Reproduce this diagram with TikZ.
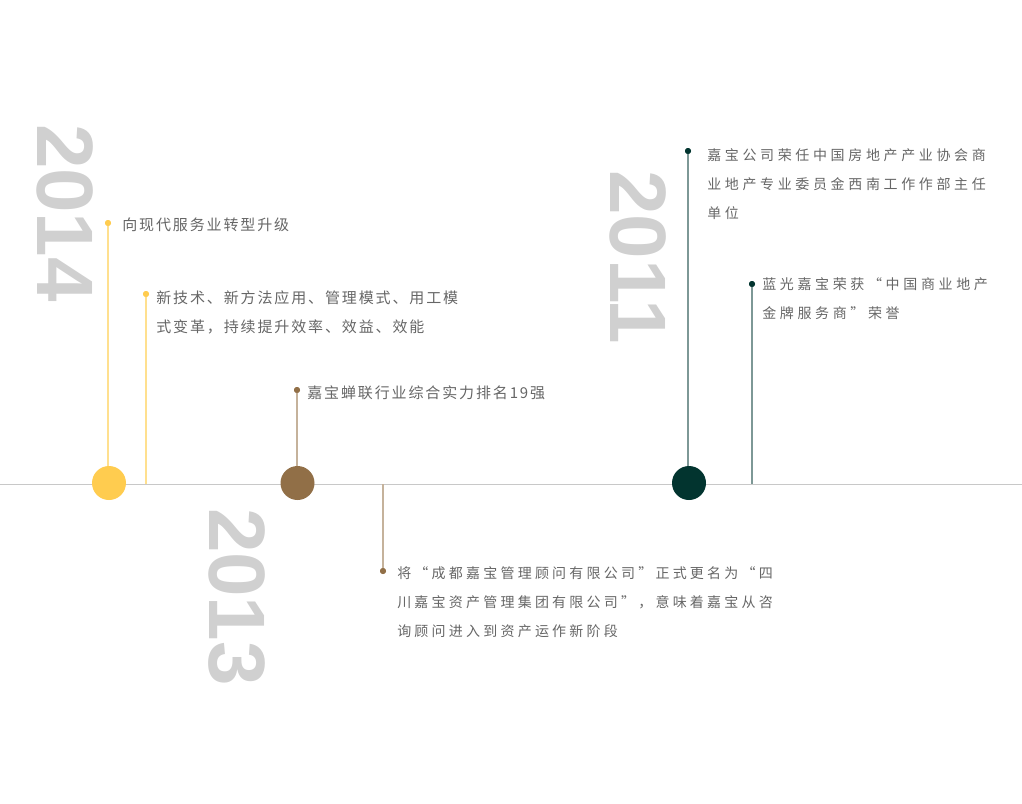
\documentclass[tikz,border=0pt]{standalone}
\usepackage{fontspec}
\newfontfamily\cjkA[LetterSpace=12.5]{Noto Sans CJK SC}
\newfontfamily\cjkB[LetterSpace=26]{Noto Sans CJK SC}
\newfontfamily\cjkC[LetterSpace=23]{Noto Sans CJK SC}
\newfontfamily\yearfont{Liberation Sans}
\definecolor{yellowC}{HTML}{FFCC4F}
\definecolor{yellowL}{HTML}{FFE08F}
\definecolor{brownC}{HTML}{916F47}
\definecolor{brownL}{HTML}{C5B29B}
\definecolor{greenC}{HTML}{02342F}
\definecolor{greenL}{HTML}{7D9896}
\definecolor{axisgray}{HTML}{C8C8C8}
\definecolor{yeargray}{HTML}{D0D0D0}
\definecolor{txtgray}{HTML}{666666}
\tikzset{
  yearlabel/.style={font=\yearfont\bfseries\fontsize{60}{60}\selectfont, text=yeargray, rotate=-90, inner sep=0pt},
  bigdot/.style={circle, minimum size=25.5pt, inner sep=0pt},
  pindot/.style={circle, minimum size=4.5pt, inner sep=0pt},
  stem/.style={line width=1.5pt},
  axisline/.style={draw=axisgray, line width=0.75pt},
  txtA/.style={anchor=west, inner sep=0pt, text=txtgray, font=\cjkA\fontsize{11.25}{11.25}\selectfont, text height=0.88em, text depth=0.12em},
  txtB/.style={anchor=west, inner sep=0pt, text=txtgray, font=\cjkB\fontsize{10.5}{10.5}\selectfont, text height=0.88em, text depth=0.12em},
  txtC/.style={txtB, font=\cjkC\fontsize{10.5}{10.5}\selectfont}
}
\begin{document}
\begin{tikzpicture}[x=0.75pt,y=-0.75pt]
\useasboundingbox (0,0) rectangle (1022,804);
% axis
\coordinate (axL) at (0,484);
\coordinate (axR) at (1022,484);
\draw[axisline] (axL) -- (axR);
% years
\node[yearlabel] (y14) at (65,213) {2014};
\node[yearlabel] (y13) at (237,597) {2013};
\node[yearlabel] (y11) at (638,257) {2011};
% pins and stems
\node[pindot, fill=yellowC] (p1) at (108,223) {};
\node[pindot, fill=yellowC] (p2) at (146,294) {};
\node[pindot, fill=brownC] (p3) at (297,390) {};
\node[pindot, fill=brownC] (p4) at (383,571) {};
\node[pindot, fill=greenC] (p5) at (688,151) {};
\node[pindot, fill=greenC] (p6) at (752,284) {};
\coordinate (q2) at (146,484);
\coordinate (q4) at (383,484);
\coordinate (q6) at (752,484);
\coordinate (c14s) at (108,483);
\coordinate (c13s) at (297,483);
\coordinate (c11s) at (688,483);
\draw[stem, yellowL] (p1.center) -- (c14s);
\draw[stem, yellowL] (p2.center) -- (q2);
\draw[stem, brownL] (p3.center) -- (c13s);
\draw[stem, brownL] (q4) -- (p4.center);
\draw[stem, greenL] (p5.center) -- (c11s);
\draw[stem, greenL] (p6.center) -- (q6);
\node[pindot, fill=yellowC] at (p1) {};
\node[pindot, fill=yellowC] at (p2) {};
\node[pindot, fill=brownC] at (p3) {};
\node[pindot, fill=brownC] at (p4) {};
\node[pindot, fill=greenC] at (p5) {};
\node[pindot, fill=greenC] at (p6) {};
% big circles
\node[bigdot, fill=yellowC] (c14) at (109,483) {};
\node[bigdot, fill=brownC] (c13) at (297.5,483) {};
\node[bigdot, fill=greenC] (c11) at (689,483) {};
% texts
\node[txtA] (t1) at (122,225) {向现代服务业转型升级};
\node[txtA] (t2a) at (156,298) {新技术、新方法应用、管理模式、用工模};
\node[txtA] (t2b) at (156,327) {式变革，持续提升效率、效益、效能};
\node[txtA] (t3) at (307,393) {嘉宝蝉联行业综合实力排名19强};
\node[txtC] (t4a) at (397,573) {将“成都嘉宝管理顾问有限公司”正式更名为“四};
\node[txtC] (t4b) at (397,602) {川嘉宝资产管理集团有限公司”，意味着嘉宝从咨};
\node[txtC] (t4c) at (397,631) {询顾问进入到资产运作新阶段};
\node[txtB] (t5a) at (707,155) {嘉宝公司荣任中国房地产产业协会商};
\node[txtB] (t5b) at (707,184) {业地产专业委员金西南工作作部主任};
\node[txtB] (t5c) at (707,213) {单位};
\node[txtB] (t6a) at (762,284) {蓝光嘉宝荣获“中国商业地产};
\node[txtB] (t6b) at (762,313) {金牌服务商”荣誉};
\end{tikzpicture}
\end{document}
